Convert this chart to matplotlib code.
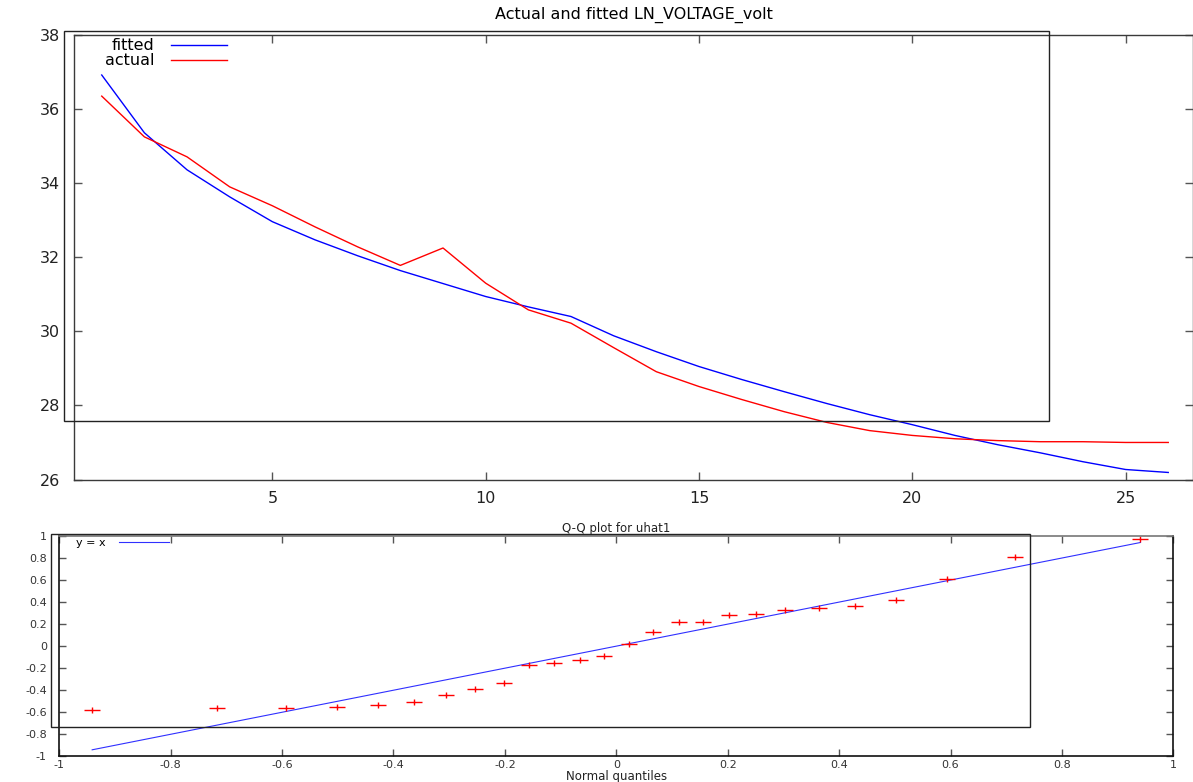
import matplotlib
matplotlib.use("Agg")
import matplotlib.pyplot as plt
from matplotlib.patches import Rectangle
from matplotlib.path import Path

# ====================================
# DATA
# ====================================

obs = list(range(1, 27))

fitted = [36.92, 35.36, 34.36, 33.63, 32.96, 32.47, 32.04, 31.64, 31.29, 30.94,
          30.66, 30.40, 29.88, 29.45, 29.05, 28.70, 28.37, 28.05, 27.75, 27.48,
          27.19, 26.94, 26.72, 26.48, 26.27, 26.19]

actual = [36.35, 35.25, 34.71, 33.90, 33.39, 32.82, 32.28, 31.78, 32.25, 31.30,
          30.58, 30.22, 29.56, 28.91, 28.51, 28.16, 27.83, 27.54, 27.32, 27.19,
          27.10, 27.05, 27.02, 27.02, 27.00, 27.00]

normal_q = [-0.941, -0.716, -0.593, -0.502, -0.428, -0.364, -0.306, -0.254, -0.202,
            -0.157, -0.112, -0.065, -0.022, 0.022, 0.066, 0.112, 0.155, 0.202,
            0.250, 0.303, 0.364, 0.428, 0.502, 0.593, 0.716, 0.941]

uhat_q = [-0.582, -0.564, -0.561, -0.555, -0.534, -0.509, -0.443, -0.388, -0.337,
          -0.171, -0.155, -0.122, -0.086, 0.020, 0.127, 0.218, 0.218, 0.282,
          0.291, 0.327, 0.344, 0.362, 0.419, 0.612, 0.806, 0.970]

ref_x = [normal_q[0], normal_q[-1]]

q_ticks = [-1, -0.8, -0.6, -0.4, -0.2, 0, 0.2, 0.4, 0.6, 0.8, 1]
q_labels = ['-1', '-0.8', '-0.6', '-0.4', '-0.2', '0', '0.2', '0.4', '0.6', '0.8', '1']

# ====================================
# FIGURE
# ====================================

plt.rcParams['font.family'] = ['DejaVu Sans']
fig = plt.figure(figsize=(11.93, 7.82), dpi=100)
W, H = 1193.0, 782.0

def box(x0, y0, x1, y1):
    # pixel box (top-left origin) -> figure fraction
    return [x0 / W, 1 - y1 / H, (x1 - x0) / W, (y1 - y0) / H]

edge = '#3a3a3a'

# ---------- top panel ----------
ax1 = fig.add_axes(box(74, 35, 1193, 479.5))
ax1.plot(obs, fitted, color='#0000ff', lw=1, label='fitted')
ax1.plot(obs, actual, color='#ff0000', lw=1, label='actual')
ax1.set_xlim(0.35, 26.58)
ax1.set_ylim(26, 38)
ax1.set_xticks([5, 10, 15, 20, 25])
ax1.set_yticks([26, 28, 30, 32, 34, 36, 38])
ax1.tick_params(direction='in', length=6, width=1, color='#555555',
                top=True, right=True, labelsize=11.5, colors='#222222')
ax1.tick_params(axis='y', pad=10)
ax1.tick_params(axis='x', pad=8)
for s in ax1.spines.values():
    s.set_color(edge)
    s.set_linewidth(1)
ax1.set_title('Actual and fitted LN_VOLTAGE_volt', fontsize=11.5, pad=12)
ax1.legend(loc='upper left', bbox_to_anchor=(0.018, 1.018), frameon=False,
           markerfirst=False, fontsize=11.5, handlelength=3.5,
           handletextpad=1.0, labelspacing=0.0, borderaxespad=0.3)

# ---------- bottom panel ----------
ax2 = fig.add_axes(box(59.3, 536, 1173.3, 756.3))
ax2.plot(ref_x, ref_x, color='#3030ff', lw=0.8, label='y = x')
plus = Path([(-1, 0), (1, 0), (0, -0.35), (0, 0.35)],
            [Path.MOVETO, Path.LINETO, Path.MOVETO, Path.LINETO])
ax2.plot(normal_q, uhat_q, linestyle='none', marker=plus, markersize=11,
         markeredgecolor='#ff0000', markeredgewidth=1)
ax2.set_xlim(-1, 1)
ax2.set_ylim(-1, 1)
ax2.set_xticks(q_ticks)
ax2.set_yticks(q_ticks)
ax2.set_xticklabels(q_labels)
ax2.set_yticklabels(q_labels)
ax2.tick_params(direction='in', length=5, width=1, color='#555555',
                top=True, right=True, labelsize=8, colors='#333333')
ax2.tick_params(axis='y', pad=9)
ax2.tick_params(axis='x', pad=3)
for s in ax2.spines.values():
    s.set_color('#111111')
    s.set_linewidth(1.2)
ax2.spines['top'].set_color('#777777')
ax2.set_title('Q-Q plot for uhat1', fontsize=8.5, pad=3, color='#222222')
ax2.set_xlabel('Normal quantiles', fontsize=8.5, color='#222222')
ax2.xaxis.set_label_coords(0.5, -0.064)
ax2.legend(loc='upper left', bbox_to_anchor=(0.008, 1.025), frameon=False,
           markerfirst=False, fontsize=8, handlelength=4.5,
           handletextpad=1.2, borderaxespad=0.3)

# ---------- stray frame boxes ----------
for (x0, y0, x1, y1) in [(64, 31, 1048.7, 420.7), (50.7, 534, 1029.7, 727)]:
    b = box(x0, y0, x1, y1)
    fig.patches.append(Rectangle((b[0], b[1]), b[2], b[3], transform=fig.transFigure,
                                 fill=False, edgecolor='#222222', lw=1))

fig.savefig('out.png', dpi=100)
